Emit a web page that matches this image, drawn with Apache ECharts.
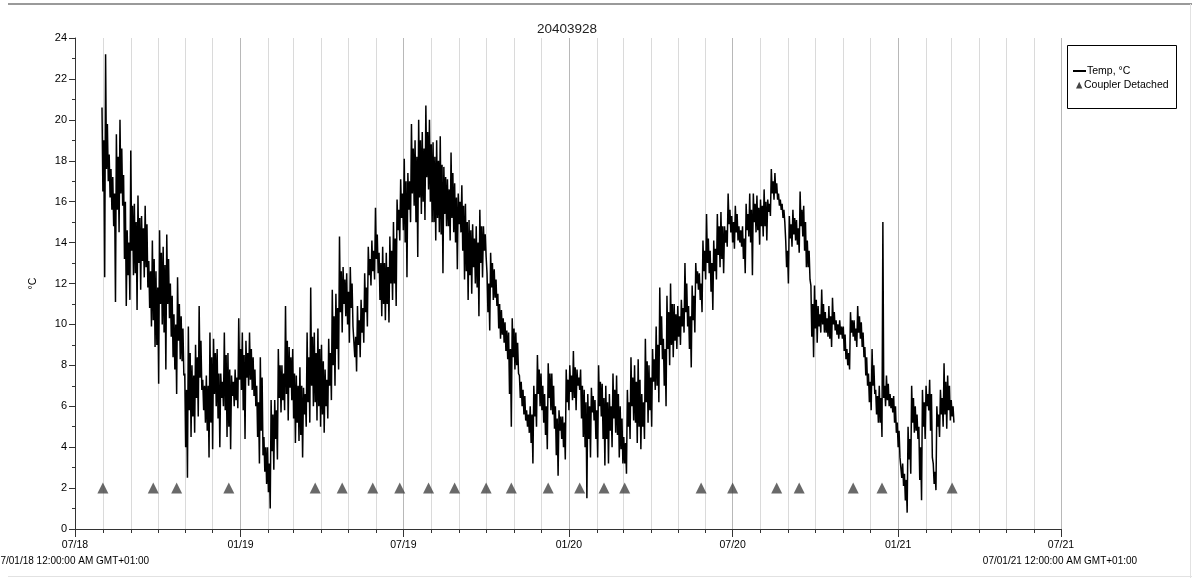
<!DOCTYPE html>
<html>
<head>
<meta charset="utf-8">
<script src="https://cdn.jsdelivr.net/npm/echarts@6/dist/echarts.min.js"></script>
<style>
  html, body { margin: 0; padding: 0; background: #fff; }
  #chart { width: 1192px; height: 578px; }
</style>
</head>
<body>
<div id="chart"></div>
<script>
// Logger 20403928 — water temperature record, Aug 2018 to Mar 2021.
// Each 4-day window holds four readings, in time order:
// the window's peak, a core-band low, a core-band high, and the window's trough.
const loggerId = '20403928';
const seriesStart = [2018, 6, 31];   // first reading (year, monthIndex, day)
const windowDays = 4;

const highs = [
  20.6, 23.2, 18.3, 17.2, 19.3, 20.0, 17.3, 14.6, 18.5, 15.9,
  16.3, 15.3, 15.8, 13.1, 14.1, 12.6, 14.6, 13.8, 14.4, 12.0,
  10.5, 12.3, 10.4, 7.6, 9.9, 8.0, 9.0, 10.9, 7.3, 7.5,
  9.6, 9.3, 8.8, 7.6, 9.6, 8.6, 7.5, 7.8, 10.3, 9.6,
  9.2, 9.6, 8.4, 7.0, 8.4, 4.5, 4.0, 6.3, 6.3, 8.8,
  8.0, 10.9, 8.9, 8.8, 7.5, 7.9, 6.9, 9.6, 11.8, 9.6,
  9.8, 9.0, 7.8, 9.3, 11.7, 11.5, 14.3, 12.8, 12.5, 12.8,
  9.9, 10.9, 11.2, 12.5, 13.8, 14.1, 15.7, 13.5, 13.8, 13.5,
  14.3, 15.0, 16.1, 17.1, 18.1, 17.4, 19.8, 19.0, 20.0, 19.4,
  20.7, 20.0, 18.9, 19.0, 19.2, 17.7, 17.1, 18.4, 16.9, 16.4,
  16.8, 15.9, 15.1, 14.9, 14.8, 15.6, 14.8, 12.5, 13.5, 12.7,
  11.5, 10.7, 10.1, 9.6, 10.3, 9.6, 7.5, 6.8, 5.8, 6.0,
  7.0, 8.5, 7.6, 6.6, 8.1, 7.6, 6.0, 5.8, 5.5, 7.8,
  8.0, 8.7, 7.8, 7.8, 6.8, 6.6, 6.9, 6.3, 8.0, 7.1,
  7.0, 6.6, 7.6, 7.5, 6.0, 4.5, 6.8, 8.4, 8.0, 8.3,
  6.6, 9.3, 8.0, 8.8, 9.9, 11.8, 9.3, 11.4, 12.0, 11.0,
  10.9, 11.2, 13.0, 10.9, 11.9, 13.0, 12.5, 14.1, 15.4, 13.6,
  14.1, 15.4, 15.5, 14.8, 16.4, 15.3, 15.8, 14.8, 14.8, 15.9,
  16.4, 16.4, 16.3, 16.1, 16.6, 16.1, 17.6, 17.4, 16.4, 15.9,
  14.1, 15.3, 15.6, 15.1, 16.5, 15.8, 14.1, 11.9, 11.9, 10.9,
  11.7, 10.6, 10.9, 11.3, 10.2, 10.2, 9.9, 8.8, 10.6, 10.2,
  10.9, 10.1, 8.9, 7.6, 8.8, 6.8, 7.0, 15.0, 7.5, 6.6,
  6.5, 5.2, 3.5, 2.7, 5.0, 7.0, 6.0, 5.0, 6.8, 7.0,
  7.3, 3.2, 6.0, 6.8, 8.1, 7.5, 6.3
];

const coreLows = [
  16.5, 17.6, 16.2, 14.8, 15.6, 16.4, 13.2, 12.4, 13.6, 12.5,
  13.0, 13.1, 12.8, 10.8, 10.2, 9.0, 11.0, 9.6, 11.0, 9.4,
  7.8, 9.2, 8.2, 4.0, 5.8, 5.5, 6.4, 7.4, 5.8, 4.8,
  5.2, 6.6, 5.4, 6.4, 5.8, 5.0, 6.5, 6.3, 7.3, 5.8,
  7.4, 7.3, 6.5, 4.5, 4.8, 2.8, 1.8, 3.8, 4.4, 6.4,
  6.3, 6.6, 6.9, 5.4, 5.2, 4.6, 5.6, 6.2, 7.0, 6.2,
  6.0, 5.6, 6.0, 7.0, 8.0, 8.8, 10.6, 11.0, 10.0, 10.8,
  8.4, 9.0, 9.6, 10.6, 12.4, 12.6, 13.2, 11.2, 11.0, 11.0,
  12.0, 12.0, 14.6, 15.2, 14.0, 15.6, 16.4, 15.0, 16.2, 16.0,
  17.2, 16.0, 15.0, 15.2, 14.4, 15.4, 14.8, 15.2, 14.0, 14.9,
  13.6, 12.6, 12.4, 12.8, 11.8, 13.0, 13.6, 10.6, 11.8, 11.3,
  9.8, 9.5, 8.7, 6.6, 8.4, 8.0, 6.4, 5.6, 5.0, 4.2,
  5.5, 6.6, 5.8, 4.6, 6.4, 5.6, 3.6, 4.8, 4.0, 6.2,
  6.7, 6.4, 7.0, 5.4, 4.0, 4.4, 5.7, 4.4, 6.0, 4.4,
  4.4, 4.8, 5.4, 4.6, 3.9, 3.2, 5.0, 6.0, 5.2, 5.0,
  5.0, 6.2, 5.8, 7.2, 7.0, 9.0, 7.0, 8.8, 9.0, 9.2,
  9.4, 9.9, 10.6, 8.8, 10.2, 12.0, 11.2, 12.6, 13.0, 11.6,
  12.6, 13.4, 13.2, 14.0, 14.9, 14.0, 14.5, 14.0, 13.2, 14.6,
  14.0, 15.0, 14.6, 14.8, 14.8, 15.5, 16.4, 16.4, 15.8, 15.2,
  12.8, 14.2, 14.4, 13.9, 14.8, 13.6, 12.8, 9.4, 9.8, 9.9,
  10.0, 9.6, 9.3, 10.0, 9.5, 9.5, 8.7, 8.0, 9.6, 9.2,
  9.6, 8.9, 7.5, 6.2, 7.0, 5.6, 5.2, 6.4, 6.3, 5.9,
  5.2, 4.0, 2.5, 1.4, 3.4, 5.2, 4.8, 2.4, 5.0, 6.0,
  4.8, 2.2, 5.0, 5.6, 5.6, 5.8, 5.5
];

const coreHighs = [
  19.0, 19.8, 17.6, 16.4, 18.2, 18.6, 16.0, 14.0, 15.8, 15.0,
  15.2, 14.7, 14.9, 12.6, 13.2, 11.8, 13.5, 12.9, 13.2, 11.4,
  10.0, 11.0, 9.8, 6.8, 8.6, 7.5, 8.4, 9.2, 7.0, 7.0,
  8.4, 8.6, 7.6, 7.2, 8.5, 7.8, 7.2, 7.4, 8.8, 8.5,
  8.6, 8.8, 7.8, 6.2, 7.4, 4.0, 3.2, 5.6, 5.8, 8.0,
  7.6, 9.2, 8.4, 7.6, 7.0, 7.0, 6.6, 8.4, 9.4, 8.6,
  8.8, 8.2, 7.3, 8.6, 10.4, 10.8, 12.6, 12.2, 11.6, 12.0,
  9.4, 10.2, 10.8, 11.8, 13.2, 13.6, 14.4, 13.0, 13.0, 12.8,
  13.6, 14.2, 15.6, 16.4, 17.0, 17.0, 18.6, 18.2, 19.0, 18.6,
  19.4, 18.8, 18.2, 18.0, 17.8, 17.2, 16.6, 17.4, 16.2, 16.0,
  15.8, 15.0, 14.6, 14.2, 14.0, 14.8, 14.4, 12.0, 13.0, 12.2,
  11.0, 10.3, 9.7, 8.8, 9.8, 9.1, 7.2, 6.5, 5.6, 5.6,
  6.6, 7.8, 7.0, 6.0, 7.6, 7.0, 5.4, 5.5, 5.2, 7.3,
  7.5, 7.9, 7.4, 7.0, 6.2, 6.0, 6.5, 5.8, 7.2, 6.4,
  6.2, 6.0, 6.8, 6.6, 5.4, 4.2, 6.2, 7.4, 7.2, 7.3,
  6.2, 8.2, 7.4, 8.3, 9.0, 10.4, 8.8, 10.6, 11.0, 10.5,
  10.4, 10.8, 12.0, 10.4, 11.4, 12.6, 12.0, 13.6, 14.2, 13.0,
  13.7, 14.8, 14.8, 14.6, 15.6, 15.0, 15.4, 14.6, 14.2, 15.4,
  15.6, 15.9, 15.7, 15.8, 16.0, 15.9, 17.0, 16.9, 16.1, 15.6,
  13.6, 14.9, 15.2, 14.7, 15.6, 15.0, 13.6, 11.0, 11.2, 10.5,
  11.0, 10.3, 10.4, 10.6, 10.0, 9.9, 9.5, 8.6, 10.2, 9.8,
  10.4, 9.6, 8.4, 7.2, 8.0, 6.5, 6.4, 7.0, 7.1, 6.4,
  6.0, 4.8, 3.2, 2.4, 4.4, 6.4, 5.6, 4.0, 6.2, 6.6,
  6.6, 2.8, 5.6, 6.4, 7.2, 7.0, 6.0
];

const lows = [
  12.3, 17.0, 15.6, 11.1, 14.5, 15.8, 10.9, 11.2, 12.4, 10.7,
  11.7, 12.3, 11.8, 9.9, 8.9, 7.1, 10.0, 7.8, 10.3, 8.4,
  6.6, 8.3, 7.5, 2.5, 4.5, 4.7, 5.5, 6.8, 5.2, 3.5,
  3.9, 6.0, 4.0, 6.0, 4.5, 3.9, 6.0, 5.9, 6.8, 4.4,
  7.0, 6.8, 6.0, 3.2, 3.6, 2.2, 1.0, 2.9, 3.4, 5.7,
  5.8, 5.3, 6.3, 4.2, 4.3, 3.5, 5.0, 5.2, 6.0, 5.3,
  5.0, 4.7, 5.4, 6.3, 7.0, 7.8, 9.6, 10.4, 9.1, 9.9,
  7.7, 8.4, 9.1, 9.9, 11.9, 12.2, 12.5, 10.4, 10.2, 10.1,
  11.2, 10.9, 14.1, 14.6, 12.3, 15.0, 15.8, 13.3, 15.4, 15.1,
  16.6, 15.0, 14.1, 14.5, 12.5, 14.8, 14.1, 14.5, 12.7, 14.5,
  12.2, 11.2, 11.5, 12.0, 10.4, 12.3, 13.3, 9.7, 11.2, 10.9,
  9.3, 9.1, 8.3, 5.0, 7.8, 7.6, 6.0, 5.3, 4.7, 3.2,
  5.0, 6.0, 5.2, 3.9, 5.8, 4.9, 2.6, 4.4, 3.4, 5.8,
  6.3, 5.8, 6.8, 4.5, 1.5, 3.5, 5.3, 3.5, 5.5, 3.1,
  3.2, 4.0, 4.7, 3.5, 3.2, 2.7, 4.4, 5.3, 4.2, 3.9,
  4.4, 5.2, 5.0, 6.8, 6.2, 8.3, 6.0, 8.0, 8.4, 8.8,
  9.0, 9.6, 9.9, 7.9, 9.6, 11.7, 10.6, 12.2, 12.5, 10.7,
  12.2, 12.8, 12.5, 13.8, 14.5, 13.7, 14.1, 13.8, 12.5, 14.3,
  12.4, 14.5, 13.9, 14.3, 14.1, 15.3, 16.1, 16.1, 15.6, 15.0,
  12.0, 13.8, 14.1, 13.5, 14.3, 12.8, 12.2, 8.4, 9.1, 9.6,
  9.6, 9.4, 8.9, 9.7, 9.3, 9.3, 8.3, 7.8, 9.4, 8.9,
  9.3, 8.4, 7.0, 5.8, 6.6, 5.2, 4.5, 6.0, 6.0, 5.7,
  4.7, 3.5, 2.1, 0.8, 2.7, 4.7, 4.4, 1.4, 4.4, 5.8,
  3.5, 1.9, 4.5, 5.0, 4.9, 5.3, 5.2
];

// Dates on which the coupler was reported detached
const couplerDates = [
  '2018-08-01', '2018-09-26', '2018-10-22', '2018-12-19',
  '2019-03-25', '2019-04-24', '2019-05-28', '2019-06-27',
  '2019-07-29', '2019-08-27', '2019-10-01', '2019-10-29',
  '2019-12-09', '2020-01-13', '2020-02-09', '2020-03-03',
  '2020-05-27', '2020-07-01', '2020-08-19', '2020-09-13',
  '2020-11-12', '2020-12-14', '2021-03-02'
];
const couplerLevel = 2;

// Axis range and labels
const axisStart = [2018, 6, 1];
const axisEnd = [2021, 6, 1];
const labelledMonths = [1, 7];
const startStamp = '07/01/18 12:00:00 AM GMT+01:00';
const endStamp = '07/01/21 12:00:00 AM GMT+01:00';

const FONT = "'Liberation Sans', Arial, sans-serif";
const DAY = 86400000;
const toTime = (a) => new Date(a[0], a[1], a[2]).getTime();
const t0 = toTime(seriesStart);

// Readings in time order: peak, core low, core high, trough — one per day
const tempData = [];
highs.forEach((h, i) => {
  const base = t0 + i * windowDays * DAY;
  tempData.push([base, h]);
  tempData.push([base + 1 * DAY, coreLows[i]]);
  tempData.push([base + 2 * DAY, coreHighs[i]]);
  tempData.push([base + 3 * DAY, lows[i]]);
});

const couplerData = couplerDates.map((d) => {
  const p = d.split('-').map(Number);
  return [new Date(p[0], p[1] - 1, p[2]).getTime(), couplerLevel];
});

function monthLabel(v) {
  const d = new Date(v);
  const m = d.getMonth() + 1;
  if (d.getDate() !== 1 || labelledMonths.indexOf(m) < 0) return '';
  return String(m).padStart(2, '0') + '/' + String(d.getFullYear() % 100).padStart(2, '0');
}

const chart = echarts.init(document.getElementById('chart'), null, { renderer: 'canvas' });

const axisColor = '#333';

chart.setOption({
  animation: false,
  backgroundColor: '#fff',
  textStyle: { fontFamily: FONT },
  grid: {
    left: 75, right: 131, top: 38, bottom: 49,
    containLabel: false, outerBoundsMode: 'none'
  },
  xAxis: [
    {
      type: 'time',
      min: toTime(axisStart),
      max: toTime(axisEnd),
      splitNumber: 36,
      axisLine: { show: true, onZero: false, lineStyle: { color: axisColor, width: 1 } },
      axisTick: { show: true, length: 4, lineStyle: { color: axisColor } },
      axisLabel: {
        formatter: monthLabel, fontSize: 10.5, color: '#000', fontFamily: FONT,
        margin: 11, hideOverlap: false, showMinLabel: true, showMaxLabel: true,
        alignMinLabel: 'center', alignMaxLabel: 'center'
      },
      splitLine: { show: true, lineStyle: { color: '#dadada', width: 1 } },
      minorTick: { show: false }
    },
    {
      type: 'time',
      position: 'bottom',
      min: toTime(axisStart),
      max: toTime(axisEnd),
      splitNumber: 6,
      axisLine: { show: false, onZero: false },
      axisTick: { show: true, length: 8, lineStyle: { color: axisColor } },
      axisLabel: { show: false },
      splitLine: { show: true, lineStyle: { color: '#b8b8b8', width: 1 } }
    }
  ],
  yAxis: {
    type: 'value',
    min: 0, max: 24, interval: 2,
    name: '°C',
    nameLocation: 'middle',
    nameGap: 36,
    nameRotate: 90,
    nameTextStyle: { fontSize: 10.5, color: '#000', fontFamily: FONT },
    axisLine: { show: true, lineStyle: { color: axisColor, width: 1 } },
    axisTick: { show: true, length: 6, lineStyle: { color: axisColor } },
    minorTick: { show: true, splitNumber: 2, length: 3, lineStyle: { color: axisColor } },
    axisLabel: { fontSize: 11, color: '#000', fontFamily: FONT, margin: 8 },
    splitLine: { show: false }
  },
  series: [
    {
      name: 'Coupler Detached',
      type: 'scatter',
      xAxisIndex: 0,
      data: couplerData,
      symbol: 'triangle',
      symbolSize: [11, 11],
      itemStyle: { color: '#444' },
      z: 2
    },
    {
      name: 'Temp, °C',
      type: 'line',
      xAxisIndex: 0,
      data: tempData,
      showSymbol: false,
      symbol: 'none',
      sampling: 'none',
      lineStyle: { color: '#000', width: 1.5, join: 'bevel' },
      z: 3
    }
  ],
  graphic: [
    // frame lines
    { type: 'line', shape: { x1: 8, y1: 4, x2: 1192, y2: 4 }, style: { stroke: '#9a9a9a', lineWidth: 2 }, silent: true },
    { type: 'line', shape: { x1: 8, y1: 576.5, x2: 1192, y2: 576.5 }, style: { stroke: '#e2e2e2', lineWidth: 1 }, silent: true },
    { type: 'line', shape: { x1: 1190.5, y1: 4, x2: 1190.5, y2: 578 }, style: { stroke: '#e2e2e2', lineWidth: 1 }, silent: true },
    // title
    { type: 'text', x: 567, y: 29.5, style: { text: loggerId, font: "13.5px " + FONT, fill: '#222', align: 'center', verticalAlign: 'middle' } },
    // time-range stamps under the axis ends
    { type: 'text', x: 72, y: 561, style: { text: startStamp, font: "10px " + FONT, fill: '#000', align: 'center', verticalAlign: 'middle' } },
    { type: 'text', x: 1060, y: 561, style: { text: endStamp, font: "10px " + FONT, fill: '#000', align: 'center', verticalAlign: 'middle' } },
    // legend box
    { type: 'rect', shape: { x: 1067.5, y: 45.5, width: 109, height: 63 }, style: { fill: '#fff', stroke: '#000', lineWidth: 1 }, z: 10 },
    { type: 'line', shape: { x1: 1073, y1: 71, x2: 1086, y2: 71 }, style: { stroke: '#000', lineWidth: 2 }, z: 11 },
    { type: 'text', x: 1087, y: 71.5, style: { text: 'Temp, °C', font: "10.5px " + FONT, fill: '#000', align: 'left', verticalAlign: 'middle' }, z: 11 },
    { type: 'polygon', shape: { points: [[1076, 88.5], [1079.2, 81.7], [1082.4, 88.5]] }, style: { fill: '#444' }, z: 11 },
    { type: 'text', x: 1084, y: 85.5, style: { text: 'Coupler Detached', font: "10.5px " + FONT, fill: '#000', align: 'left', verticalAlign: 'middle' }, z: 11 }
  ]
});
</script>
</body>
</html>
